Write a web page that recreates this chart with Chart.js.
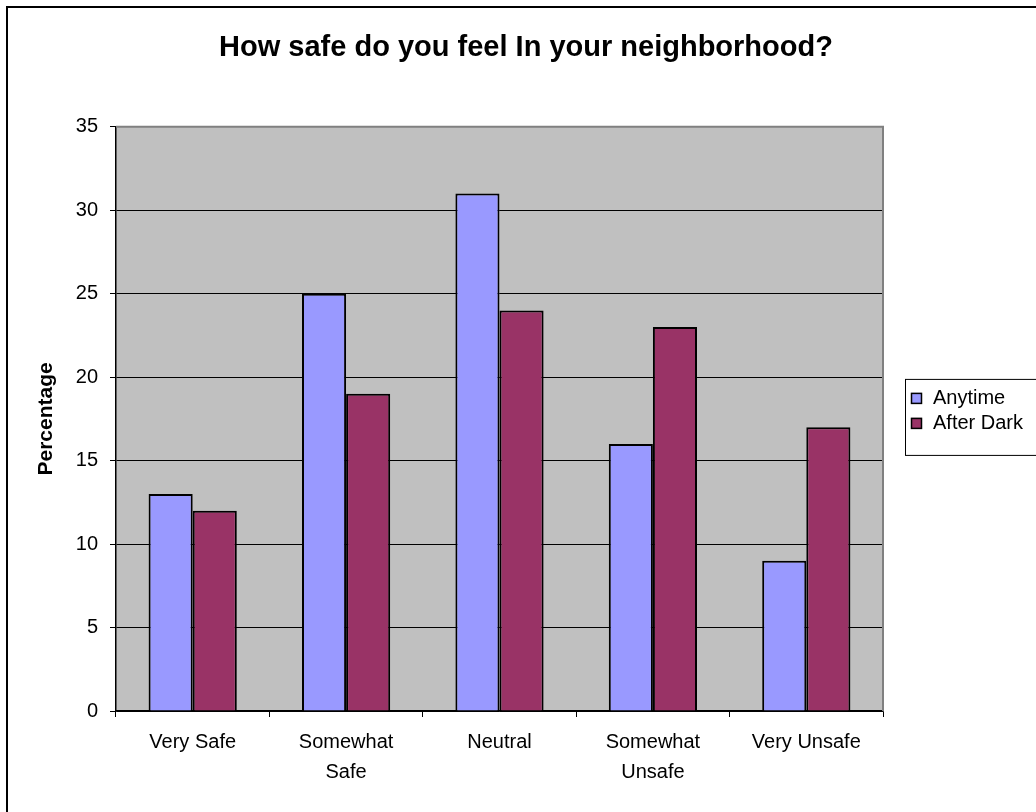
<!DOCTYPE html>
<html>
<head>
<meta charset="utf-8">
<script src="https://cdn.jsdelivr.net/npm/chart.js@4/dist/chart.umd.min.js"></script>
<style>
    html, body { margin: 0; padding: 0; background: #ffffff; }
    #wrap { width: 1036px; height: 812px; }
</style>
</head>
<body>
<div id="wrap"><canvas id="safety-chart"></canvas></div>
<script>
// chart data
var categories = [["Very Safe"], ["Somewhat", "Safe"], ["Neutral"], ["Somewhat", "Unsafe"], ["Very Unsafe"]];
var seriesNames = ["Anytime", "After Dark"];
var anytimeValues = [13, 25, 31, 16, 9];
var afterDarkValues = [12, 19, 24, 23, 17];
var yTicks = [0, 5, 10, 15, 20, 25, 30, 35];

var FONT = "'Liberation Sans', Arial, sans-serif";

// gray plot area + outer frame
var plotBackground = {
    id: 'plotBackground',
    beforeDraw: function (chart) {
        var ctx = chart.ctx;
        var a = chart.chartArea;
        ctx.save();
        ctx.fillStyle = '#ffffff';
        ctx.fillRect(0, 0, chart.width, chart.height);
        ctx.fillStyle = '#c0c0c0';
        ctx.fillRect(a.left, a.top, a.right - a.left, a.bottom - a.top);
        ctx.restore();
    },
    afterDraw: function (chart) {
        var ctx = chart.ctx;
        var a = chart.chartArea;
        ctx.save();
        // top and right edge of the plot area
        ctx.strokeStyle = '#808080';
        ctx.lineWidth = 2;
        ctx.beginPath();
        ctx.moveTo(a.left, a.top);
        ctx.lineTo(a.right, a.top);
        ctx.lineTo(a.right, a.bottom);
        ctx.stroke();
        // outer frame
        ctx.strokeStyle = '#000000';
        ctx.lineWidth = 2;
        ctx.strokeRect(7, 7, chart.width + 20, chart.height + 20);
        ctx.restore();
    }
};

// legend box drawn from the datasets
var boxLegend = {
    id: 'boxLegend',
    afterDraw: function (chart) {
        var ctx = chart.ctx;
        var a = chart.chartArea;
        var mid = (a.top + a.bottom) / 2;
        var x0 = a.right + 22;
        ctx.save();
        ctx.fillStyle = '#ffffff';
        ctx.fillRect(x0, mid - 40, 200, 76);
        ctx.strokeStyle = '#000000';
        ctx.lineWidth = 1;
        ctx.strokeRect(x0 + 0.5, mid - 39.5, 200, 76);
        ctx.font = '20px ' + FONT;
        ctx.textBaseline = 'middle';
        chart.data.datasets.forEach(function (ds, i) {
            var y = mid - 21 + i * 25;
            ctx.fillStyle = ds.backgroundColor;
            ctx.fillRect(x0 + 6, y - 5, 11, 11);
            ctx.strokeStyle = '#000000';
            ctx.lineWidth = 1.5;
            ctx.strokeRect(x0 + 6.5, y - 4.5, 10, 10);
            ctx.fillStyle = '#000000';
            ctx.fillText(ds.label, x0 + 28, y + 1);
        });
        ctx.restore();
    }
};

function BuildSafetyChart() {
    var ctx = document.getElementById('safety-chart');

    return new Chart(ctx, {
        type: 'bar',
        data: {
            labels: categories,
            datasets: [{
                label: seriesNames[0],
                data: anytimeValues,
                backgroundColor: '#9999ff',
                borderColor: '#000000',
                borderWidth: 2
            }, {
                label: seriesNames[1],
                data: afterDarkValues,
                backgroundColor: '#993366',
                borderColor: '#000000',
                borderWidth: 2
            }]
        },
        options: {
            responsive: true,
            maintainAspectRatio: false,
            animation: false,
            categoryPercentage: 0.575,
            barPercentage: 1.0,
            layout: { padding: { left: 16, right: 0, top: 0, bottom: 0 } },
            plugins: {
                legend: { display: false },
                tooltip: { enabled: false },
                title: {
                    display: true,
                    text: 'How safe do you feel In your neighborhood?',
                    color: '#000000',
                    font: { family: FONT, size: 29, weight: 'bold' },
                    padding: { top: 31, bottom: 61 }
                }
            },
            scales: {
                x: {
                    grid: {
                        display: true,
                        drawOnChartArea: false,
                        drawTicks: true,
                        tickLength: 6,
                        color: '#000000',
                        offset: true
                    },
                    border: { display: true, color: '#000000', width: 1.5 },
                    ticks: {
                        color: '#000000',
                        padding: 10,
                        maxRotation: 0,
                        font: { family: FONT, size: 20, lineHeight: 1.5 }
                    },
                    afterFit: function (scale) { scale.height = 101; }
                },
                y: {
                    min: 0,
                    max: 35,
                    afterBuildTicks: function (scale) {
                        scale.ticks = yTicks.map(function (v) { return { value: v }; });
                    },
                    grid: {
                        color: function (c) { return c.tick && c.tick.value === 35 ? '#808080' : '#000000'; },
                        lineWidth: 1,
                        tickLength: 6,
                        tickColor: '#000000'
                    },
                    border: { display: true, color: '#000000', width: 1.5 },
                    ticks: {
                        color: '#000000',
                        padding: 12,
                        font: { family: FONT, size: 20 }
                    },
                    title: {
                        display: true,
                        text: 'Percentage',
                        color: '#000000',
                        font: { family: FONT, size: 21, weight: 'bold' },
                        padding: { top: 18, bottom: 0 }
                    },
                    afterFit: function (scale) { scale.width = 100; }
                },
                // reserves the room on the right where the legend sits
                legendSpace: {
                    type: 'linear',
                    position: 'right',
                    display: true,
                    grid: { display: false, drawTicks: false },
                    border: { display: false },
                    ticks: { display: false },
                    afterFit: function (scale) { scale.width = 153; }
                }
            }
        },
        plugins: [plotBackground, boxLegend]
    });
}

// starting scripts
BuildSafetyChart();
</script>
</body>
</html>
